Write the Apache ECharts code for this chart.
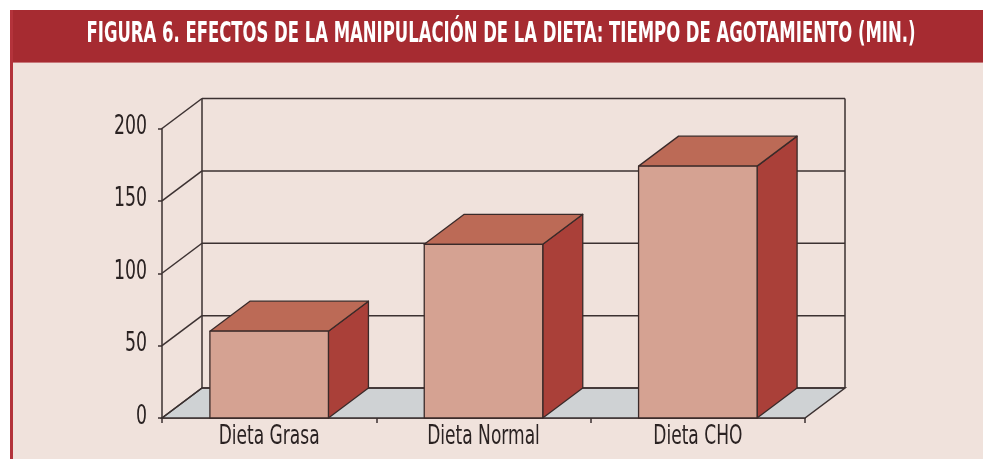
<!DOCTYPE html>
<html>
<head>
<meta charset="utf-8">
<script src="https://cdn.jsdelivr.net/npm/echarts@6/dist/echarts.min.js"></script>
<style>
html,body{margin:0;padding:0;background:#ffffff;}
#c{width:983px;height:459px;}
</style>
</head>
<body>
<div id="c"></div>
<script>
const titleText = 'FIGURA 6. EFECTOS DE LA MANIPULACIÓN DE LA DIETA: TIEMPO DE AGOTAMIENTO (MIN.)';
const categories = ['Dieta Grasa', 'Dieta Normal', 'Dieta CHO'];
const values = [60, 120, 174];
const yTicks = [0, 50, 100, 150, 200];

const FONT = '"Liberation Sans Narrow", "DejaVu Sans Condensed", "Roboto Condensed", Arial, sans-serif';
const DX = 40, DY = -30;           // 3D depth offset in pixels
const LINE = '#3b3131';
const LW = 1.5;
const BG = '#f0e2dc';
const TXT = '#2a2222';

function measure(text, font) {
  const c = document.createElement('canvas').getContext('2d');
  c.font = font;
  return c.measureText(text).width;
}
const titleFont = 'bold 28px ' + FONT;
const titleScale = 829 / measure(titleText, titleFont);
const yFont = '27px ' + FONT;
const yScale = 33 / measure('200', yFont);
const xFont = '27px ' + FONT;
const xScale = 101 / measure('Dieta Grasa', xFont);

const chart = echarts.init(document.getElementById('c'));

function catBounds(api) {
  const w = api.size([1, 0])[0];
  const left = api.coord([0, 0])[0] - w / 2;
  const right = api.coord([categories.length - 1, 0])[0] + w / 2;
  return { left, right, w };
}

const option = {
  animation: false,
  backgroundColor: '#ffffff',
  graphic: [
    { type: 'rect', shape: { x: 10, y: 10, width: 973, height: 449 }, style: { fill: BG }, z: -10 },
    { type: 'rect', shape: { x: 10, y: 10, width: 973, height: 52 }, style: { fill: '#a62b31' }, z: -9 },
    { type: 'rect', shape: { x: 10, y: 62, width: 973, height: 1 }, style: { fill: '#c8777a' }, z: -9 },
    { type: 'rect', shape: { x: 10, y: 10, width: 3, height: 449 }, style: { fill: '#b3333b' }, z: -8 },
    {
      type: 'text', x: 501, y: 35, scaleX: titleScale, scaleY: 1, z: 10,
      style: { text: titleText, font: titleFont, fill: '#ffffff', textAlign: 'center', textVerticalAlign: 'middle' }
    }
  ],
  grid: { left: 162, right: 178, top: 128.5, bottom: 41, containLabel: false },
  xAxis: {
    type: 'category',
    data: categories,
    axisLine: { lineStyle: { color: LINE, width: LW } },
    axisTick: { show: true, length: 5, lineStyle: { color: LINE, width: LW } },
    axisLabel: { show: false },
    splitLine: { show: false }
  },
  yAxis: {
    type: 'value', min: 0, max: 200, interval: 50,
    axisLine: { show: true, lineStyle: { color: LINE, width: LW } },
    axisTick: { show: true, length: 4, lineStyle: { color: LINE, width: LW } },
    axisLabel: { show: false },
    splitLine: { show: false }
  },
  series: [
    {
      type: 'custom',
      clip: false,
      z: 1,
      silent: true,
      data: yTicks.map(v => [0, v]),
      encode: { x: 0, y: 1 },
      renderItem: function (params, api) {
        const b = catBounds(api);
        const v = api.value(1);
        const y = api.coord([0, v])[1];
        const children = [];
        const ls = { stroke: LINE, lineWidth: LW };
        if (params.dataIndex === 0) {
          const yTop = api.coord([0, yTicks[yTicks.length - 1]])[1];
          children.push({
            type: 'polygon',
            shape: { points: [[b.left, y], [b.right, y], [b.right + DX, y + DY], [b.left + DX, y + DY]] },
            style: { fill: '#cfd2d4', stroke: LINE, lineWidth: LW }
          });
          children.push({ type: 'line', shape: { x1: b.left + DX, y1: y + DY, x2: b.left + DX, y2: yTop + DY }, style: ls });
          children.push({ type: 'line', shape: { x1: b.right + DX, y1: y + DY, x2: b.right + DX, y2: yTop + DY }, style: ls });
        }
        children.push({ type: 'line', shape: { x1: b.left + DX, y1: y + DY, x2: b.right + DX, y2: y + DY }, style: ls });
        children.push({ type: 'line', shape: { x1: b.left, y1: y, x2: b.left + DX, y2: y + DY }, style: ls });
        children.push({
          type: 'text', x: b.left - 15, y: y - 1.5, scaleX: yScale, scaleY: 1,
          style: { text: String(v), font: yFont, fill: TXT, textAlign: 'right', textVerticalAlign: 'middle' }
        });
        return { type: 'group', children: children };
      }
    },
    {
      type: 'custom',
      clip: false,
      z: 3,
      data: values.map((v, i) => [i, v]),
      encode: { x: 0, y: 1 },
      renderItem: function (params, api) {
        const i = api.value(0);
        const top = api.coord([i, api.value(1)]);
        const base = api.coord([i, 0]);
        const w = api.size([1, 0])[0] * 0.553;
        const x0 = top[0] - w / 2, x1 = top[0] + w / 2;
        const yt = top[1], yb = base[1];
        const edge = { stroke: '#3a2a29', lineWidth: 1.3, lineJoin: 'round' };
        return {
          type: 'group',
          children: [
            { type: 'polygon', shape: { points: [[x1, yt], [x1 + DX, yt + DY], [x1 + DX, yb + DY], [x1, yb]] },
              style: Object.assign({ fill: '#aa4039' }, edge) },
            { type: 'polygon', shape: { points: [[x0, yt], [x1, yt], [x1 + DX, yt + DY], [x0 + DX, yt + DY]] },
              style: Object.assign({ fill: '#bc6a56' }, edge) },
            { type: 'rect', shape: { x: x0, y: yt, width: w, height: yb - yt },
              style: Object.assign({ fill: '#d5a292' }, edge) },
            { type: 'text', x: top[0], y: yb + 18.5, scaleX: xScale, scaleY: 1,
              style: { text: categories[i], font: xFont, fill: TXT, textAlign: 'center', textVerticalAlign: 'middle' } }
          ]
        };
      }
    }
  ]
};
chart.setOption(option);
</script>
</body>
</html>
